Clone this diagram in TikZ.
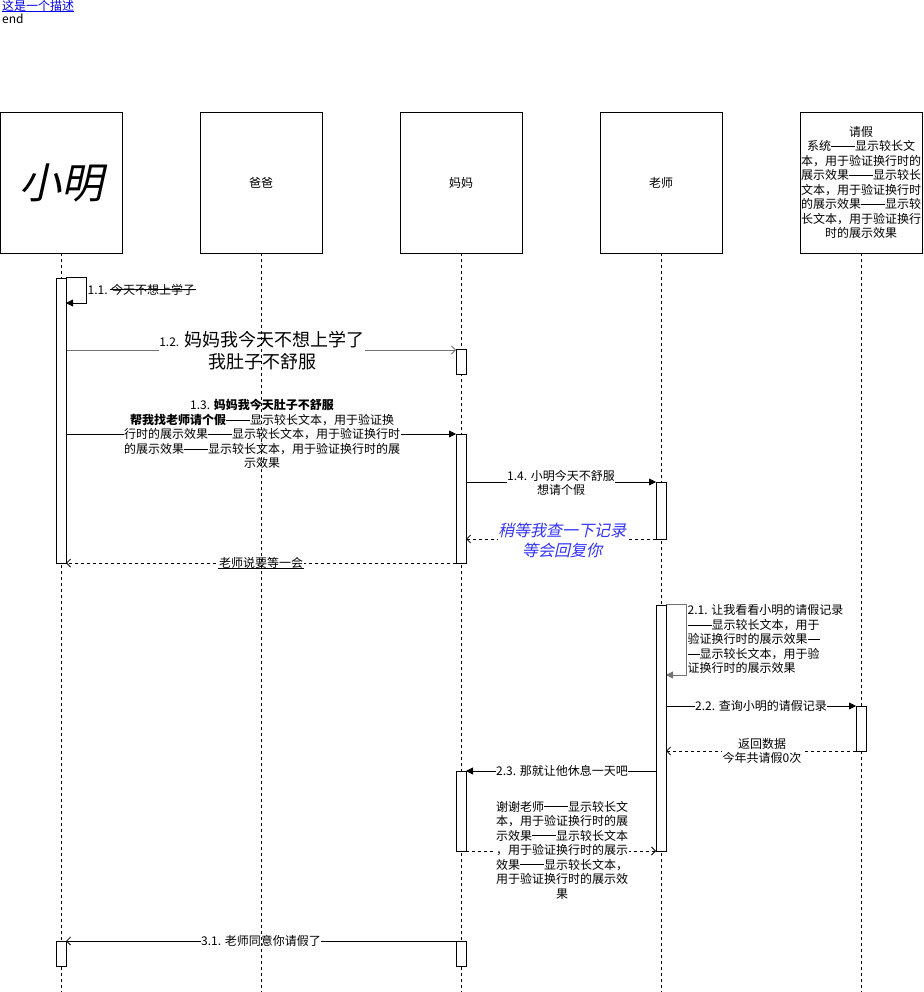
\documentclass[tikz,border=0pt]{standalone}
\usepackage{fontspec}
\setmainfont{Noto Sans CJK SC}
\newfontfamily\slantcjk{Noto Sans CJK SC}[FakeSlant=0.22]
\usetikzlibrary{arrows.meta}
\definecolor{linkblue}{RGB}{0,0,238}
\definecolor{noteblue}{RGB}{51,51,255}
\newcommand{\dd}{\rule[0.33em]{1em}{0.06em}}
\pgfdeclarelayer{bgl}
\pgfdeclarelayer{msgs}
\pgfdeclarelayer{labels}
\pgfsetlayers{bgl,msgs,labels,main}
\begin{document}
\begin{tikzpicture}[x=1pt,y=-1pt,
  part/.style={draw, fill=white, minimum width=122pt, minimum height=141pt, inner sep=0pt, line width=0.8pt, align=center, font=\fontsize{12}{14.5}\selectfont},
  act/.style={draw, fill=white, minimum width=10pt, inner sep=0pt, line width=0.8pt},
  life/.style={dash pattern=on 3pt off 3pt, line width=0.8pt},
  sync/.style={-{Triangle[length=7pt,width=7pt]}, line width=0.8pt},
  msgopen/.style={-{Straight Barb[length=4pt,width=8pt]}, line width=0.8pt},
  retmsg/.style={msgopen, dash pattern=on 3pt off 3pt},
  lbl/.style={fill=white, inner sep=0.5pt, align=center, font=\fontsize{12}{14.5}\selectfont}
]
\begin{pgfonlayer}{bgl}
\fill[white] (0,0) rectangle (923,992);
\end{pgfonlayer}
\useasboundingbox (0,0) rectangle (923,992);

% top description
\node[anchor=north west, inner sep=0pt, font=\fontsize{12}{14}\selectfont, text=linkblue] (desc) at (2,0) {这是一个描述};
\draw[linkblue, line width=0.8pt] ([yshift=0.5pt]desc.south west) -- ([yshift=0.5pt]desc.south east);
\node[anchor=north west, inner sep=0pt, font=\fontsize{12}{14}\selectfont] (endt) at (2,14) {end};

% participants
\node[part] (pxm) at (61,182.5) {\slantcjk\fontsize{42}{46}\selectfont 小明};
\node[part] (pbb) at (261,182.5) {爸爸};
\node[part] (pmm) at (461,182.5) {妈妈};
\node[part] (pls) at (661,182.5) {老师};
\node[part] (pqj) at (861,182.5) {请假\\系统\dd\dd 显示较长文\\本，用于验证换行时的\\展示效果\dd\dd 显示较长\\文本，用于验证换行时\\的展示效果\dd\dd 显示较\\长文本，用于验证换行\\时的展示效果};

% lifelines
\coordinate (exm) at (61,992);
\coordinate (ebb) at (261,992);
\coordinate (emm) at (461,992);
\coordinate (els) at (661,992);
\coordinate (eqj) at (861,992);
\draw[life] (pxm.south) -- (exm);
\draw[life] (pbb.south) -- (ebb);
\draw[life] (pmm.south) -- (emm);
\draw[life] (pls.south) -- (els);
\draw[life] (pqj.south) -- (eqj);

% activations
\node[act, minimum height=285pt] (xa1) at (61,420.5) {};
\node[act, minimum height=25pt] (ma1) at (461,361.5) {};
\node[act, minimum height=129pt] (ma2) at (461,498.5) {};
\node[act, minimum height=57pt] (la1) at (661,510.5) {};
\node[act, minimum height=246pt] (la2) at (661,728) {};
\node[act, minimum height=45pt] (qa1) at (861,728.5) {};
\node[act, minimum height=80pt] (ma3) at (461,811) {};
\node[act, minimum height=25pt] (xa2) at (61,953.5) {};
\node[act, minimum height=25pt] (ma4) at (461,953.5) {};

% message end points
\coordinate (c11) at (66,303);
\coordinate (c12a) at (66,350);  \coordinate (c12b) at (456,350);
\coordinate (c13a) at (66,434);  \coordinate (c13b) at (456,434);
\coordinate (c14a) at (466,482); \coordinate (c14b) at (656,482);
\coordinate (c15a) at (656,539); \coordinate (c15b) at (466,539);
\coordinate (c16a) at (456,563); \coordinate (c16b) at (66,563);
\coordinate (c21) at (666,675);
\coordinate (c22a) at (666,706); \coordinate (c22b) at (856,706);
\coordinate (c23a) at (856,751); \coordinate (c23b) at (666,751);
\coordinate (c24a) at (656,771); \coordinate (c24b) at (466,771);
\coordinate (c25a) at (466,851); \coordinate (c25b) at (656,851);
\coordinate (c31a) at (456,941); \coordinate (c31b) at (66,941);

\begin{pgfonlayer}{msgs}
\draw[sync] (xa1.north east) -- ++(20,0) |- (c11);
\draw[msgopen, draw=black!55] (c12a) -- (c12b);
\draw[sync] (c13a) -- (c13b);
\draw[sync] (c14a) -- (c14b);
\draw[retmsg] (c15a) -- (c15b);
\draw[retmsg] (c16a) -- (c16b);
\draw[sync, draw=black!55] (la2.north east) -- ++(20,0) |- (c21);
\draw[sync] (c22a) -- (c22b);
\draw[retmsg] (c23a) -- (c23b);
\draw[sync] (c24a) -- (c24b);
\draw[retmsg] (c25a) -- (c25b);
\draw[msgopen] (c31a) -- (c31b);
\end{pgfonlayer}

\begin{pgfonlayer}{labels}
\node[lbl, fill=none, anchor=west] (l11a) at (87,290) {1.1.};
\node[lbl, fill=none, anchor=west] (l11b) at ([xshift=2pt]l11a.east) {今天不想上学子};
\draw[line width=0.8pt] ([yshift=0.5pt]l11b.west) -- ([yshift=0.5pt]l11b.east);
\node[lbl, font=\fontsize{18}{22}\selectfont] (l12) at (262,351) {{\fontsize{12}{14}\selectfont 1.2.} 妈妈我今天不想上学了\\我肚子不舒服};
\node[lbl] (l13) at (262,434) {1.3. \textbf{妈妈我今天肚子不舒服}\\\textbf{帮我找老师请个假}\dd\dd 显示较长文本，用于验证换\\行时的展示效果\dd\dd 显示较长文本，用于验证换行时\\的展示效果\dd\dd 显示较长文本，用于验证换行时的展\\示效果};
\node[lbl] (l14) at (561,483) {1.4. 小明今天不舒服\\想请个假};
\node[lbl, text=noteblue, font=\slantcjk\fontsize{16}{20}\selectfont] (l15) at (562,540) {稍等我查一下记录\\等会回复你};
\node[lbl] (l16) at (261,563) {老师说要等一会};
\draw[line width=0.8pt] ([yshift=1pt]l16.south west) -- ([yshift=1pt]l16.south east);
\node[lbl, fill=none, anchor=north west, align=left] (l21) at (687,604) {2.1. 让我看看小明的请假记录\\\dd\dd 显示较长文本，用于\\验证换行时的展示效果\dd\\\dd 显示较长文本，用于验\\证换行时的展示效果};
\node[lbl] (l22) at (761,706) {2.2. 查询小明的请假记录};
\node[lbl] (l23) at (762,751) {返回数据\\今年共请假0次};
\node[lbl] (l24) at (562,771) {2.3. 那就让他休息一天吧};
\node[lbl] (l25) at (562,850) {谢谢老师\dd\dd 显示较长文\\本，用于验证换行时的展\\示效果\dd\dd 显示较长文本\\，用于验证换行时的展示\\效果\dd\dd 显示较长文本，\\用于验证换行时的展示效\\果};
\node[lbl] (l31) at (261,941) {3.1. 老师同意你请假了};
\end{pgfonlayer}
\end{tikzpicture}
\end{document}
